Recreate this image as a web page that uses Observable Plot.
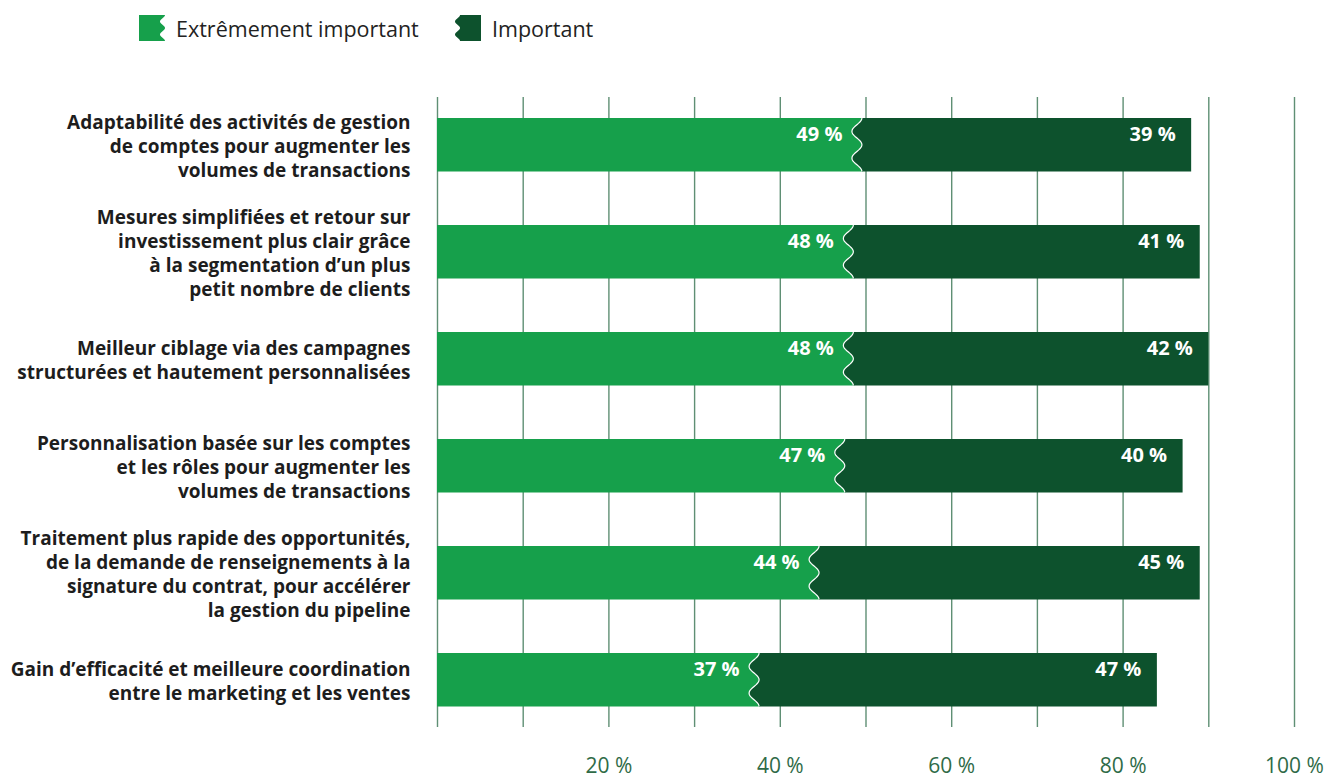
<!DOCTYPE html>
<html>
<head>
<meta charset="utf-8">
<script src="https://cdn.jsdelivr.net/npm/d3@7"></script>
<script src="https://cdn.jsdelivr.net/npm/@observablehq/plot@0.6"></script>
<style>
  html, body { margin: 0; padding: 0; background: #fff; }
  body { width: 1336px; height: 778px; overflow: hidden; font-family: "Open Sans", sans-serif; }
  #legend { position: relative; height: 56px; }
  .item { position: absolute; top: 15px; display: flex; align-items: center; height: 26px; font-size: 21.5px; color: #222; }
  .item svg { display: block; margin-right: 11px; }
</style>
</head>
<body>
<div id="legend"></div>
<div id="chart"></div>
<script>
const categories = [
  "Adaptabilité des activités de gestion\nde comptes pour augmenter les\nvolumes de transactions",
  "Mesures simplifiées et retour sur\ninvestissement plus clair grâce\nà la segmentation d’un plus\npetit nombre de clients",
  "Meilleur ciblage via des campagnes\nstructurées et hautement personnalisées",
  "Personnalisation basée sur les comptes\net les rôles pour augmenter les\nvolumes de transactions",
  "Traitement plus rapide des opportunités,\nde la demande de renseignements à la\nsignature du contrat, pour accélérer\nla gestion du pipeline",
  "Gain d’efficacité et meilleure coordination\nentre le marketing et les ventes"
];
const extreme = [49, 48, 48, 47, 44, 37];
const important = [39, 41, 42, 40, 45, 47];
const seriesNames = ["Extrêmement important", "Important"];
const tickValues = [20, 40, 60, 80, 100];
const gridValues = [0, 10, 20, 30, 40, 50, 60, 70, 80, 90, 100];

const LIGHT = "#16a04b";
const DARK = "#0d522d";

const data = categories.map((c, i) => ({label: c, extreme: extreme[i], important: important[i], total: extreme[i] + important[i]}));

// wave helper: points along a vertical edge, bulging left by amp (two bumps)
function wavePath(x0, y0, h, amp) {
  const pts = [];
  for (let k = 0; k <= 40; k++) {
    const t = k / 40;
    const s = Math.sin(2 * Math.PI * t);
    pts.push([x0 - amp * s * s, y0 + t * h]);
  }
  return pts;
}
const toD = pts => pts.map((p, k) => (k ? "L" : "M") + p[0].toFixed(2) + "," + p[1].toFixed(2)).join(" ");

// Legend
const legend = document.getElementById("legend");
function swatch(kind) {
  const w = 26, h = 26, a = 5;
  let d;
  if (kind === 0) {
    const pts = wavePath(w, 0, h, a);
    d = "M0,0 L" + w + ",0 " + toD(pts).replace(/^M/, "L") + " L0," + h + " Z";
  } else {
    const pts = wavePath(a, 0, h, a);
    d = toD(pts) + ` L${w},${h} L${w},0 Z`;
  }
  return `<svg width="${w}" height="${h}"><path d="${d}" fill="${kind === 0 ? LIGHT : DARK}"/></svg>`;
}
legend.innerHTML = `
  <div class="item" style="left:139px">${swatch(0)}<span>${seriesNames[0]}</span></div>
  <div class="item" style="left:455px">${swatch(1)}<span>${seriesNames[1]}</span></div>`;

// dark segment with a wavy left edge (white outline on the wave)
function darkWave(data) {
  return Plot.barX(data, {
    x1: "extreme",
    x2: "total",
    y: "label",
    fill: DARK,
    render(index, scales, values) {
      const g = d3.create("svg:g");
      const bw = scales.y.bandwidth();
      for (const i of index) {
        const bx = values.x1[i] + 5, ex = values.x2[i], y0 = values.y[i];
        const waveD = toD(wavePath(bx, y0, bw, 10));
        g.append("path")
          .attr("d", waveD + ` L${ex},${y0 + bw} L${ex},${y0} Z`)
          .attr("fill", DARK);
        g.append("path")
          .attr("d", waveD)
          .attr("fill", "none")
          .attr("stroke", "#fff")
          .attr("stroke-width", 1.2);
      }
      return g.node();
    }
  });
}

const chart = Plot.plot({
  width: 1336,
  height: 722,
  marginLeft: 437,
  marginRight: 42,
  marginTop: 41,
  marginBottom: 51,
  style: {fontFamily: "Open Sans, sans-serif", background: "#fff"},
  x: {domain: [0, 100]},
  y: {domain: categories, range: [35.25, 677.25], paddingInner: 0.5, paddingOuter: 0.25, round: false, axis: null},
  marks: [
    Plot.ruleX(gridValues, {stroke: "#5f8f74", strokeWidth: 1.4}),
    Plot.barX(data, {x1: 0, x2: "extreme", y: "label", fill: LIGHT, insetRight: -6}),
    darkWave(data),
    Plot.text(data, {x: "extreme", y: "label", text: d => d.extreme + " %", textAnchor: "end", dx: -15, dy: -11, fill: "#fff", fontSize: 20, fontWeight: 700}),
    Plot.text(data, {x: "total", y: "label", text: d => d.important + " %", textAnchor: "end", dx: -16, dy: -11, fill: "#fff", fontSize: 20, fontWeight: 700}),
    Plot.text(data, {x: 0, y: "label", text: "label", textAnchor: "end", lineAnchor: "middle", dx: -27, lineHeight: 1.263, fill: "#1d1d1d", fontSize: 19, fontWeight: 700}),
    Plot.axisX(tickValues, {tickSize: 0, tickPadding: 31, tickFormat: d => d + " %", fontSize: 21, color: "#2f6b47", fill: "#2f6b47", label: null})
  ]
});
document.getElementById("chart").appendChild(chart);
</script>
</body>
</html>
